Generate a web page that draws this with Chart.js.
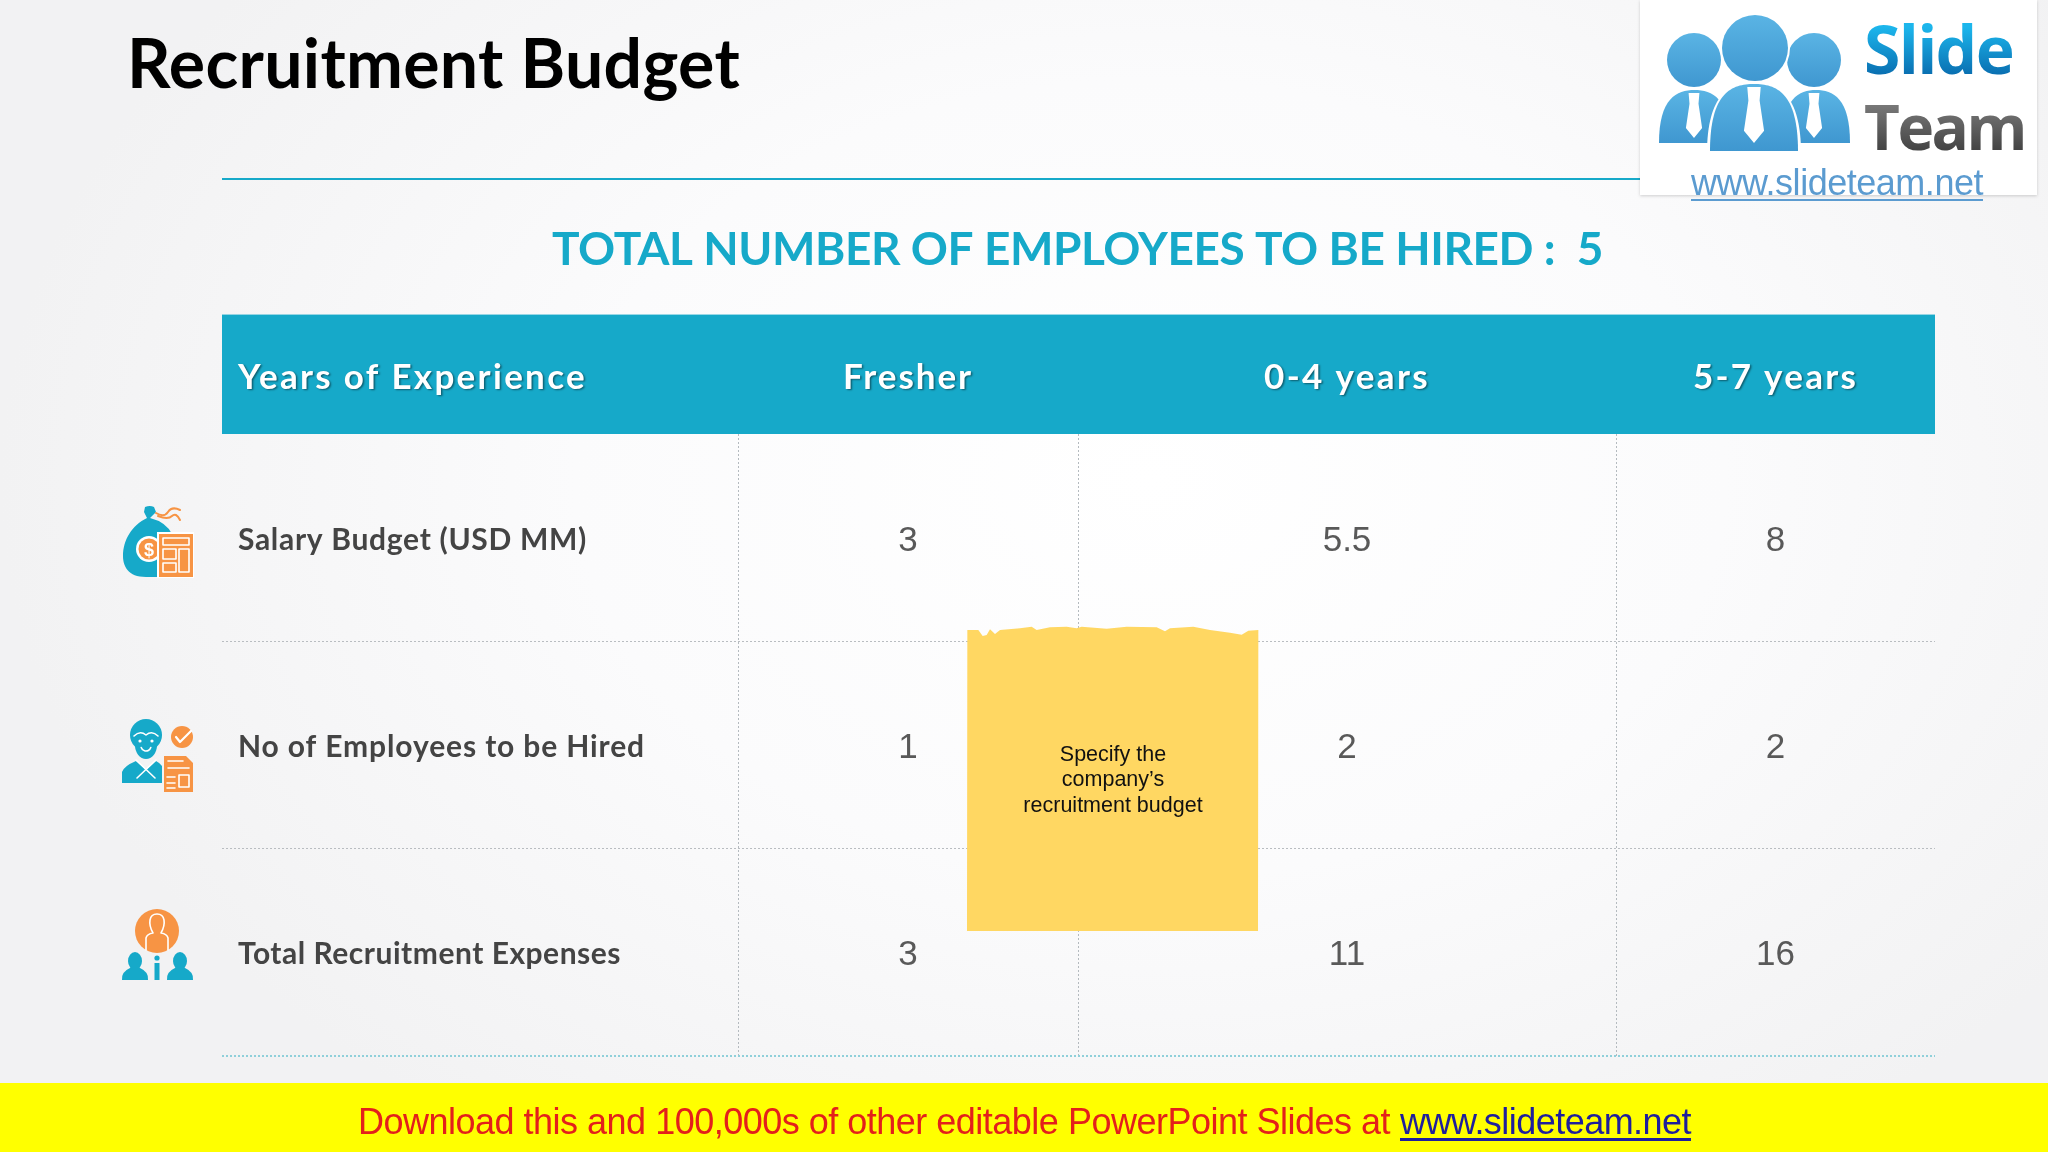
<!DOCTYPE html>
<html>
<head>
<meta charset="utf-8">
<title>Recruitment Budget</title>
<script src="https://cdn.jsdelivr.net/npm/chart.js@4/dist/chart.umd.min.js"></script>
<style>
html,body{margin:0;padding:0;width:2048px;height:1152px;overflow:hidden;
  background:radial-gradient(ellipse 1150px 800px at 1150px 480px,#ffffff 0%,#fbfbfc 50%,#f2f2f3 100%);}
canvas{display:block;}
</style>
</head>
<body>
<canvas id="chart" width="2048" height="1152"></canvas>
<script>
// Table content
const experienceLevels=['Fresher','0-4 years','5-7 years'];
const rowLabels=['Salary Budget (USD MM)','No of Employees to be Hired','Total Recruitment Expenses'];
const salaryBudget=[3,5.5,8];
const employeesToHire=[1,2,2];
const recruitmentExpenses=[3,11,16];
const headerLabel='Years of Experience';
const totalLabel='TOTAL NUMBER OF EMPLOYEES TO BE HIRED :  5';

// Column edges on the x scale (first column holds the row labels)
const columnEdges=[0,516,856,1394,1713];
const columnCenters=[686,1125,1553.5];
const rowCenters=[0.5,1.5,2.5];

const TEAL='#16a9c9', ORANGE='#f79444', FUTURA='Lato', ARIAL='"Liberation Sans"';

// Text helper, width = target width on screen (squeezed with letter spacing)
function put(ctx,str,x,y,font,color,align,width){
  ctx.save();
  ctx.font=font; ctx.fillStyle=color; ctx.textAlign=align||'left'; ctx.textBaseline='alphabetic';
  if(width){ ctx.letterSpacing=((width-ctx.measureText(str).width)/str.length).toFixed(3)+'px'; }
  ctx.fillText(str,x,y);
  ctx.restore();
}

function path(ctx,color,fn){ ctx.fillStyle=color; ctx.beginPath(); fn(ctx); ctx.fill(); }
function stroke(ctx,color,w,fn){ ctx.strokeStyle=color; ctx.lineWidth=w; ctx.lineCap='round'; ctx.lineJoin='round'; ctx.beginPath(); fn(ctx); ctx.stroke(); }

// Icons
function bagIcon(ctx){
  path(ctx,TEAL,c=>{ c.moveTo(145,507); c.quadraticCurveTo(150,505,154,507); c.lineTo(156,512); c.lineTo(150,518);
    c.quadraticCurveTo(166,522,172,534); c.lineTo(172,577); c.lineTo(146,577);
    c.bezierCurveTo(128,577,123,566,123,556); c.bezierCurveTo(123,540,132,525,147,518); c.lineTo(144,512); c.closePath(); });
  stroke(ctx,ORANGE,2,c=>{ c.moveTo(156,513); c.quadraticCurveTo(164,518,168,512); c.quadraticCurveTo(172,506,180,510); });
  stroke(ctx,ORANGE,2,c=>{ c.moveTo(158,516); c.quadraticCurveTo(168,520,172,516); c.quadraticCurveTo(176,512,180,520); });
  path(ctx,'#fff',c=>c.arc(149,549,13,0,Math.PI*2));
  path(ctx,ORANGE,c=>c.arc(149,549,10.5,0,Math.PI*2));
  put(ctx,'$',149,556,'bold 18px "Liberation Sans"','#fff','center');
  path(ctx,'#fff',c=>c.rect(157,532,37,46));
  path(ctx,ORANGE,c=>c.rect(159,534,34,43));
  ctx.fillStyle='#fff';
  ctx.strokeStyle='#fff'; ctx.lineWidth=1.6;
  ctx.strokeRect(163,538,26,7); ctx.strokeRect(163,549,13,10); ctx.strokeRect(163,563,13,9); ctx.strokeRect(179,549,10,23);
}

function personIcon(ctx){
  // body
  path(ctx,TEAL,c=>{ c.moveTo(122,783); c.lineTo(122,772); c.quadraticCurveTo(124,766,136,761); c.lineTo(146,770); c.lineTo(156,761);
    c.quadraticCurveTo(160,763,162,766); c.lineTo(162,783); c.closePath(); });
  stroke(ctx,'#fff',1.6,c=>{ c.moveTo(136,760); c.lineTo(155,778); c.moveTo(156,760); c.lineTo(137,778); });
  // hair and face
  path(ctx,TEAL,c=>c.arc(146,735,16,0,Math.PI*2));
  path(ctx,TEAL,c=>c.ellipse(146,745,11,14,0,0,Math.PI*2));
  stroke(ctx,'#fff',1.6,c=>{ c.moveTo(134,736); c.quadraticCurveTo(140,730,146,735); c.quadraticCurveTo(152,730,158,736); });
  stroke(ctx,'#fff',1.6,c=>c.arc(146,746,5,0.3,Math.PI-0.3));
  path(ctx,'#fff',c=>{ c.arc(140,741,1.6,0,Math.PI*2); c.moveTo(154,741); c.arc(152,741,1.6,0,Math.PI*2); });
  // check mark
  path(ctx,ORANGE,c=>c.arc(182,737,11,0,Math.PI*2));
  stroke(ctx,'#fff',2.2,c=>{ c.moveTo(176,737); c.lineTo(180,742); c.lineTo(191,731); });
  // document
  path(ctx,ORANGE,c=>{ c.moveTo(164,756); c.lineTo(186,756); c.lineTo(193,763); c.lineTo(193,792); c.lineTo(164,792); c.closePath(); });
  stroke(ctx,'#fff',1.6,c=>{ c.moveTo(168,761); c.lineTo(183,761); c.moveTo(168,768); c.lineTo(189,768); c.moveTo(167,777); c.lineTo(175,777);
    c.moveTo(167,783); c.lineTo(175,783); c.moveTo(167,788); c.lineTo(175,788); c.rect(179,775,10,12); });
}

function expensesIcon(ctx){
  path(ctx,ORANGE,c=>c.arc(157,931,22,0,Math.PI*2));
  stroke(ctx,'#fff',1.6,c=>{ c.moveTo(146,950); c.lineTo(146,938); c.quadraticCurveTo(147,934,153,933); c.quadraticCurveTo(149,926,150,920);
    c.quadraticCurveTo(151,914,157,914); c.quadraticCurveTo(163,914,164,920); c.quadraticCurveTo(165,926,161,933);
    c.quadraticCurveTo(167,934,168,938); c.lineTo(168,950); });
  [135,180].forEach(x=>{
    path(ctx,TEAL,c=>{ c.ellipse(x,961,7,9,0,0,Math.PI*2); });
    path(ctx,TEAL,c=>{ c.moveTo(x-13,980); c.quadraticCurveTo(x-14,972,x-5,968); c.lineTo(x+5,968); c.quadraticCurveTo(x+14,972,x+13,980); c.closePath(); });
  });
  path(ctx,TEAL,c=>{ c.arc(157,958,2.6,0,Math.PI*2); });
  path(ctx,TEAL,c=>{ c.rect(154.5,963,5,17); });
}

// Logo block, top right
function logo(ctx){
  ctx.save();
  ctx.shadowColor='rgba(0,0,0,.18)'; ctx.shadowBlur=3; ctx.shadowOffsetY=1;
  ctx.fillStyle='#ffffff'; ctx.fillRect(1640,0,397,195);
  ctx.restore();
  const blue=(y0,y1)=>{ let g=ctx.createLinearGradient(0,y0,0,y1); g.addColorStop(0,'#5ab4e4'); g.addColorStop(1,'#3f97d0'); return g; };
  const dome=(l,r,t,b)=>{ path(ctx,blue(t,b),c=>{ c.moveTo(l,b); c.bezierCurveTo(l,t+8,l+(r-l)*.25,t,(l+r)/2,t);
    c.bezierCurveTo(l+(r-l)*.75,t,r,t+8,r,b); c.closePath(); }); };
  const tie=(x,t,s)=>{ path(ctx,'#fff',c=>{ c.moveTo(x-6*s,t); c.lineTo(x+6*s,t); c.lineTo(x+5*s,t+12*s); c.lineTo(x+9*s,t+39*s); c.lineTo(x,t+50*s); c.lineTo(x-9*s,t+39*s); c.lineTo(x-5*s,t+12*s); c.closePath(); }); };
  dome(1659,1730,90,143); dome(1782,1850,90,143);
  path(ctx,blue(33,87),c=>c.arc(1694,60,27,0,Math.PI*2));
  path(ctx,blue(33,87),c=>c.arc(1814,60,27,0,Math.PI*2));
  tie(1694,93,.9); tie(1814,93,.9);
  path(ctx,'#fff',c=>c.arc(1755,48,35,0,Math.PI*2));
  path(ctx,blue(15,81),c=>c.arc(1755,48,33,0,Math.PI*2));
  ctx.fillStyle='#fff'; ctx.beginPath(); ctx.moveTo(1707,153); ctx.bezierCurveTo(1707,95,1730,81,1754,81); ctx.bezierCurveTo(1778,81,1801,95,1801,153); ctx.closePath(); ctx.fill();
  dome(1710,1798,84,151);
  tie(1754,87,1.12);
  let g1=ctx.createLinearGradient(0,27,0,74); g1.addColorStop(0,'#1cb6ec'); g1.addColorStop(1,'#0a70b2');
  let g2=ctx.createLinearGradient(0,106,0,150); g2.addColorStop(0,'#777'); g2.addColorStop(1,'#444');
  put(ctx,'Slide',1864,74,'bold 66px "Open Sans"',g1,'left',149);
  put(ctx,'Team',1864,150,'bold 62px "Open Sans"',g2,'left',161);
  put(ctx,'www.slideteam.net',1691,195,'36px '+ARIAL,'#5b9bd0','left',292);
  ctx.fillStyle='#5b9bd0'; ctx.fillRect(1691,199,292,2);
}

// Yellow note with the torn upper edge
const noteEdge=[[82,60],[115,60],[128,78],[140,75],[150,58],[165,72],[180,60],[240,55],[275,50],[290,60],[330,52],[380,50],[410,55],[425,50],[500,56],[560,50],[650,52],[675,64],[690,55],[760,50],[810,60],[870,68],[905,74],[925,62],[955,60]];
function note(ctx){
  path(ctx,'#ffd762',c=>{
    noteEdge.forEach((p,i)=>{ let x=940+p[0]/3, y=610+p[1]/3; if(i==0) c.moveTo(x,y); else c.lineTo(x,y); });
    c.lineTo(1258,931); c.lineTo(967,931); c.closePath();
  });
  put(ctx,'Specify the',1113,761,'21.5px '+ARIAL,'#111','center');
  put(ctx,'company\u2019s',1113,786,'21.5px '+ARIAL,'#111','center');
  put(ctx,'recruitment budget',1113,812,'21.5px '+ARIAL,'#111','center');
}

// Draws everything that is not a grid line, placed from the scales
const tablePlugin={
  id:'table',
  beforeDatasetsDraw(chart){
    let ctx=chart.ctx, x=chart.scales.x, y=chart.scales.y;
    // header band sits above row 0 on the same y scale
    let top=y.getPixelForValue(-0.576), bot=y.getPixelForValue(0);
    ctx.fillStyle=TEAL;
    ctx.fillRect(x.left,top,x.right-x.left,bot-top);
    put(ctx,'Recruitment Budget',127,88,'bold 68px '+FUTURA,'#000','left',613);
    ctx.fillStyle=TEAL; ctx.fillRect(222,178,1418,2);
    ctx.fillStyle='rgba(22,169,201,.25)'; ctx.fillRect(1640,178,100,2);
    put(ctx,totalLabel,552,265,'bold 46px '+FUTURA,TEAL,'left',1051);
    logo(ctx);
    bagIcon(ctx); personIcon(ctx); expensesIcon(ctx);
    // footer
    ctx.fillStyle='#ffff00'; ctx.fillRect(0,1083,2048,69);
    put(ctx,'Download this and 100,000s of other editable PowerPoint Slides at',358,1134,'36px '+ARIAL,'#e3201b','left',1032);
    put(ctx,'www.slideteam.net',1400,1134,'36px '+ARIAL,'#1f1f9c','left',291);
    ctx.fillStyle='#1f1f9c'; ctx.fillRect(1400,1138,291,3);
  },
  afterDatasetsDraw(chart){
    let ctx=chart.ctx, x=chart.scales.x, y=chart.scales.y;
    // header text
    ctx.save();
    ctx.shadowColor='rgba(0,0,0,.45)'; ctx.shadowOffsetX=1.5; ctx.shadowOffsetY=1.5; ctx.shadowBlur=2;
    let hy=y.getPixelForValue(-0.576)+74;
    put(ctx,headerLabel,x.getPixelForValue(16),hy,'bold 35px '+FUTURA,'#fff','left',349);
    const headW=[130,166,165];
    experienceLevels.forEach((t,i)=>put(ctx,t,x.getPixelForValue(columnCenters[i]),hy,'bold 35px '+FUTURA,'#fff','center',headW[i]));
    ctx.restore();
    // rows: label on the left, values taken from each dataset's points
    const labelW=[349,407,383];
    chart.data.datasets.forEach((ds,r)=>{
      let meta=chart.getDatasetMeta(r);
      put(ctx,rowLabels[r],x.getPixelForValue(16),y.getPixelForValue(rowCenters[r])+12,'bold 30px '+FUTURA,'#444','left',labelW[r]);
      meta.data.forEach((pt,i)=>put(ctx,String(ds.values[i]),pt.x,pt.y+13,'35px '+ARIAL,'#595959','center'));
    });
    note(ctx);
  }
};

const rowData=[salaryBudget,employeesToHire,recruitmentExpenses];
new Chart(document.getElementById('chart'),{
  type:'scatter',
  data:{datasets:rowData.map((vals,r)=>({
    label:rowLabels[r],
    values:vals,
    data:vals.map((v,i)=>({x:columnCenters[i],y:rowCenters[r]})),
    pointRadius:0
  }))},
  options:{
    responsive:false,
    devicePixelRatio:1,
    animation:false,
    events:[],
    layout:{padding:{left:222,right:113,top:434,bottom:96}},
    plugins:{legend:{display:false},tooltip:{enabled:false},title:{display:false}},
    scales:{
      x:{type:'linear',min:0,max:1713,
        afterBuildTicks(s){ s.ticks=columnEdges.map(v=>({value:v})); },
        ticks:{display:false},border:{display:false,dash:[2,2]},
        grid:{drawTicks:false,lineWidth:1,
          color:c=>(c.tick.value==0||c.tick.value==1713)?'rgba(0,0,0,0)':'#b4babf'}},
      y:{type:'linear',min:0,max:3,reverse:true,
        afterBuildTicks(s){ s.ticks=[0,1,2,3].map(v=>({value:v})); },
        ticks:{display:false},border:{display:false,dash:[2,2]},
        grid:{drawTicks:false,lineWidth:c=>c.tick.value==3?2:1,
          color:c=>c.tick.value==0?'rgba(0,0,0,0)':(c.tick.value==3?'#8fd0da':'#b9bdc1')}}
    }
  },
  plugins:[tablePlugin]
});
</script>
</body>
</html>
